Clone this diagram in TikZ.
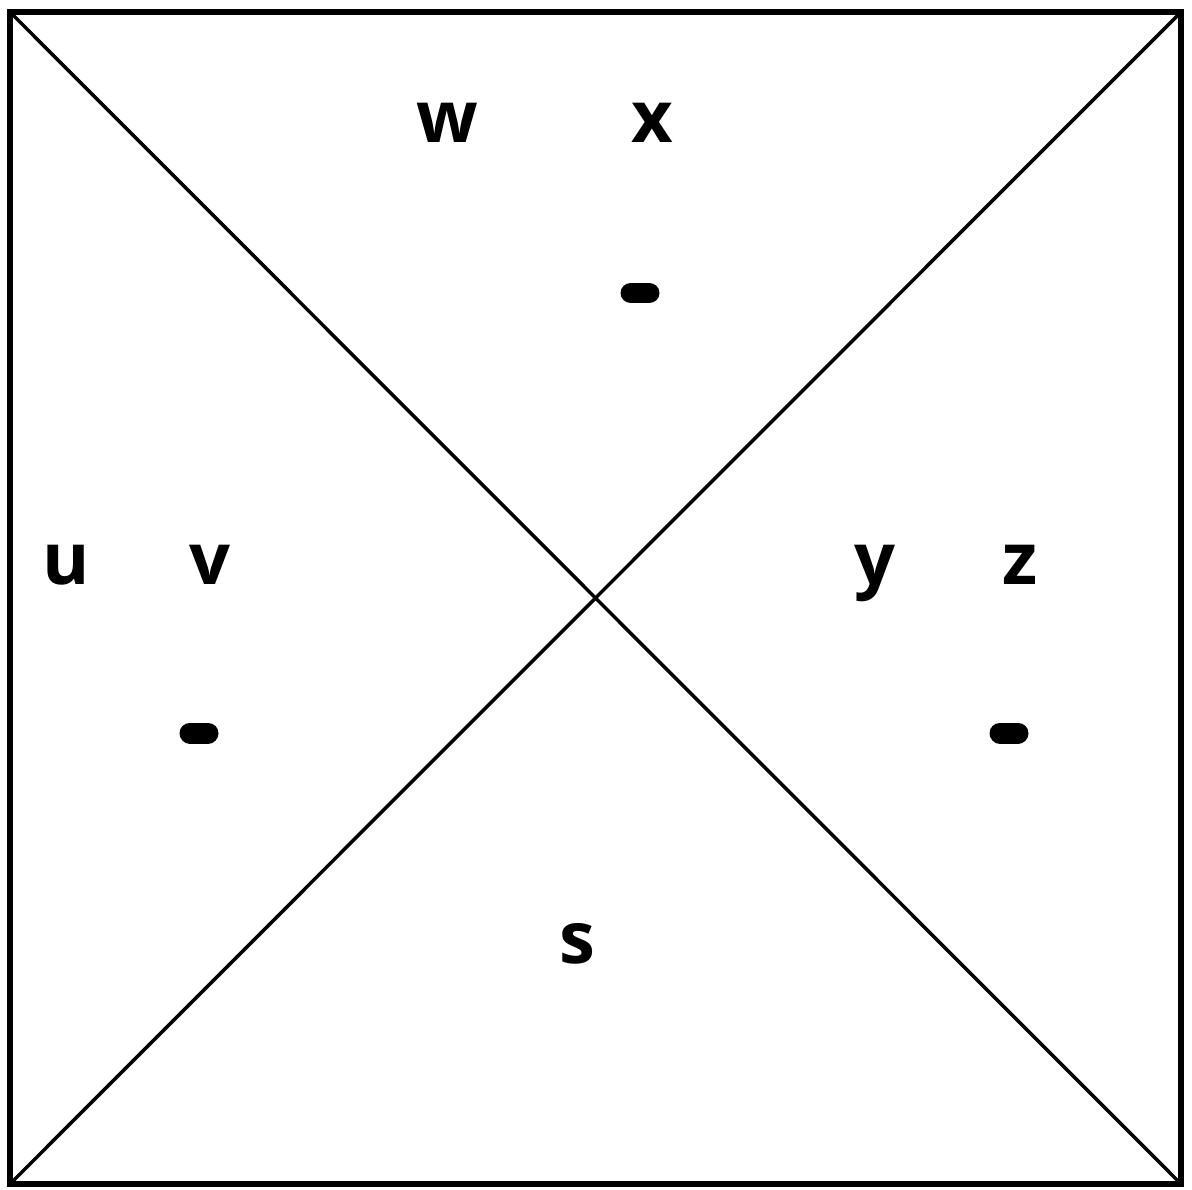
\documentclass[tikz,border=0pt]{standalone}
\usepackage{fontspec}
\setmainfont{Open Sans}

\begin{document}
\begin{tikzpicture}[x=0.02cm,y=-0.02cm,
   letter/.style={font=\fontsize{41}{41}\selectfont\bfseries,inner sep=0pt,anchor=base},
   bar/.style={line width=0.42cm,line cap=round}]
   \useasboundingbox (0,0) rectangle (1192,1189);
   \coordinate (tl) at (10,12);
   \coordinate (tr) at (1181,12);
   \coordinate (br) at (1181,1184);
   \coordinate (bl) at (10,1184);

   \draw[line width=3pt] (tl) -- (tr) -- (br) -- (bl) -- cycle;
   \draw[line width=2pt] (tl) -- (br);
   \draw[line width=2pt] (bl) -- (tr);

   \node[letter] (w) at (447,143) {w};
   \node[letter] (x) at (652,143) {x};
   \node[letter] (u) at (66,584) {u};
   \node[letter] (v) at (210,584) {v};
   \node[letter] (y) at (875,584) {y};
   \node[letter] (z) at (1020,584) {z};
   \node[letter] (s) at (577,963) {s};

   \draw[bar] (631,293) -- (649,293);
   \draw[bar] (190,733) -- (208,733);
   \draw[bar] (1000,733) -- (1018,733);
\end{tikzpicture}
\end{document}
